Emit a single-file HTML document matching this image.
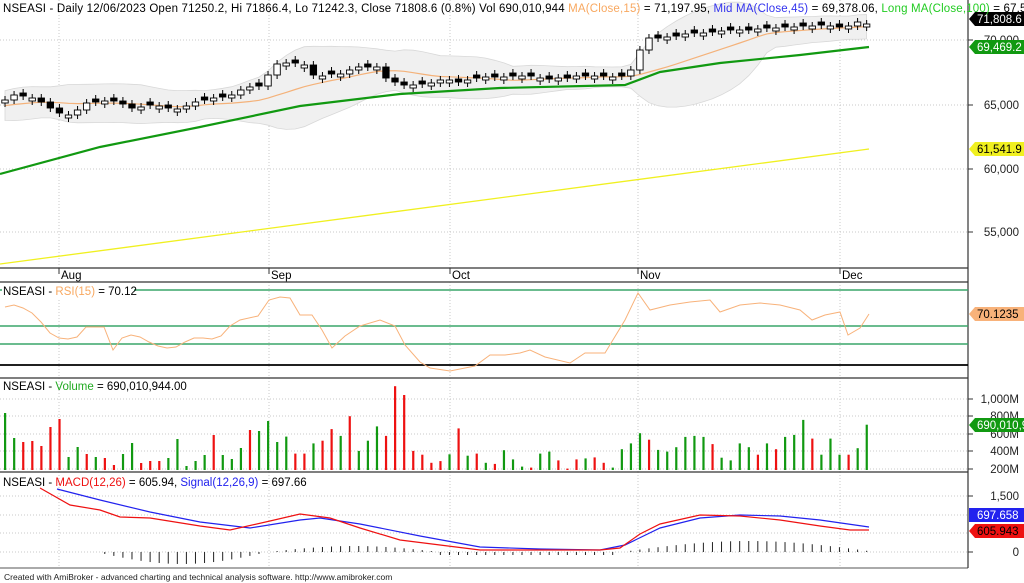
<!DOCTYPE html>
<html><head><meta charset="utf-8"><style>
body{margin:0;background:#fff;}
svg{display:block;font-family:"Liberation Sans",sans-serif;}
</style></head><body>
<svg id="s" width="1024" height="583" viewBox="0 0 1024 583" xmlns="http://www.w3.org/2000/svg"></svg>
<script>
const S=document.getElementById('s');let h='';
const X=i=>5+i*9.07;
const cy=[100,95,96,98,102,108,113,115,110,103,102,101,101,104,108,107,105,106,108,109,106,102,100,98,97,95,90,87,86,75,64,63,63,65,75,76,74,74,70,67,67,67,78,82,85,85,84,83,80,80,82,80,78,77,77,77,76,76,76,78,79,78,78,76,76,76,76,77,76,70,50,38,38,37,36,34,33,33,32,31,30,30,30,29,28,28,27,27,26,26,25,26,27,26,22,24,20];
const n=96;
const vg=[59,269,450,638,840];
function dot(x1,y1,x2,y2){h+=`<line x1="${x1}" y1="${y1}" x2="${x2}" y2="${y2}" stroke="#c8c8c8" stroke-dasharray="1,2"/>`;}
vg.forEach(x=>{dot(x,0,x,268);dot(x,282,x,378);dot(x,378,x,472);dot(x,472,x,568);});
[40,105,169,232].forEach(y=>dot(0,y,968,y));
[399,416,434,451,469].forEach(y=>dot(0,y,968,y));
[496,515,533,552].forEach(y=>dot(0,y,968,y));
let ma=[],up=[],lo=[];
for(let i=0;i<n;i++){let a=[];for(let k=i-14;k<=i;k++)a.push(cy[Math.max(0,k)]+(k<0?(k*-0.8):0));let m=a.reduce((p,c)=>p+c)/15;let sd=Math.sqrt(a.reduce((p,c)=>p+(c-m)*(c-m),0)/15);ma.push(m);up.push(m-2*sd-8);lo.push(m+2*sd+8);}
let bp='M'+up.map((y,i)=>X(i).toFixed(1)+','+y.toFixed(1)).join(' L')+' L'+lo.map((y,i)=>X(n-1-i).toFixed(1)+','+lo[n-1-i].toFixed(1)).join(' L')+'Z';
h+=`<path d="${bp}" fill="#f0f0f0" stroke="#d8d8d8" stroke-width="0.8"/>`;
h+=`<polyline points="${ma.map((y,i)=>X(i).toFixed(1)+','+y.toFixed(1)).join(' ')}" fill="none" stroke="#f4b27a" stroke-width="1.2"/>`;
h+=`<line x1="0" y1="264" x2="869" y2="149" stroke="#f0f020" stroke-width="1.3"/>`;
h+=`<polyline points="0,174 100,147 200,127 300,106 400,94 500,88 625,85 660,72 720,63 800,55 869,47" fill="none" stroke="#119911" stroke-width="2.2"/>`;
for(let i=0;i<n;i++){let c=cy[i],o=i?cy[i-1]:c+3;if(Math.abs(c-o)<3)o=c+((i%2)?3:-3);let x=X(i);let t=Math.min(c,o),b=Math.max(c,o);
h+=`<line x1="${x}" y1="${t-4}" x2="${x}" y2="${b+4}" stroke="#000"/>`;
h+=`<rect x="${x-3.2}" y="${t}" width="6.4" height="${b-t}" fill="${c<o?'#fff':'#000'}" stroke="#000" stroke-width="0.9"/>`;}
h+=`<line x1="0" y1="268" x2="968" y2="268" stroke="#555" stroke-width="1.5"/><line x1="0" y1="282" x2="968" y2="282" stroke="#555" stroke-width="1.5"/><line x1="0" y1="378" x2="968" y2="378" stroke="#555" stroke-width="1.5"/><line x1="0" y1="472" x2="968" y2="472" stroke="#555" stroke-width="1.5"/><line x1="0" y1="568" x2="968" y2="568" stroke="#555" stroke-width="1"/>`;
h+=`<line x1="968" y1="0" x2="968" y2="568" stroke="#333" stroke-width="1.2"/>`;
[['Aug',59],['Sep',269],['Oct',450],['Nov',638],['Dec',840]].forEach(([t,x])=>{h+=`<line x1="${x}" y1="268" x2="${x}" y2="274" stroke="#333"/><text x="${x+2}" y="279" font-size="11.5">${t}</text>`;});
[[290,'#3aa66a'],[326,'#3aa66a'],[344,'#3aa66a']].forEach(([y,c])=>h+=`<line x1="0" y1="${y}" x2="968" y2="${y}" stroke="${c}" stroke-width="1.5"/>`);
h+=`<line x1="0" y1="365" x2="968" y2="365" stroke="#000" stroke-width="1.8"/>`;
h+=`<polyline points="5,307 14,305 23,308 32,313 41,322 50,333 59,338 68,339 77,337 86,327 95,327 104,327 113,350 122,338 131,335 140,337 149,342 158,346 167,348 176,347 185,342 194,338 203,338 212,339 221,336 230,326 240,320 258,316 269,300 280,297 290,298 300,315 312,315 322,330 332,348 345,336 360,326 380,320 395,326 405,345 420,362 430,368 450,371 465,368 475,366 490,355 505,355 520,353 530,350 545,357 570,363 585,353 605,353 625,320 638,293 650,310 670,305 690,302 710,300 720,312 740,305 760,303 780,305 800,310 812,320 825,315 840,312 848,335 860,328 869,314" fill="none" stroke="#f8b27a" stroke-width="1"/>`;
const v3=[[413,'g'],[438,'g'],[442,'r'],[441,'r'],[446,'r'],[427,'r'],[419,'r'],[457,'g'],[447,'g'],[454,'r'],[457,'g'],[458,'r'],[465,'r'],[454,'g'],[443,'g'],[463,'r'],[461,'r'],[461,'r'],[458,'g'],[439,'g'],[466,'g'],[461,'g'],[455,'g'],[435,'r'],[455,'g'],[459,'g'],[448,'g'],[430,'r'],[431,'g'],[421,'g'],[442,'g']];
const z4=[[200,'g'],[250,'r'],[250,'r'],[220,'g'],[212,'r'],[178,'r'],[198,'g'],[140,'r'],[242,'g'],[212,'g'],[170,'g'],[198,'r'],[52,'r'],[78,'r'],[242,'r'],[253,'r'],[277,'r'],[272,'r'],[252,'g'],[176,'r'],[256,'g'],[250,'r'],[277,'g'],[280,'r'],[240,'g'],[267,'g'],[288,'g'],[291,'r'],[250,'g'],[244,'g'],[270,'r'],[294,'r'],[267,'r'],[264,'g'],[261,'r'],[277,'r'],[291,'g'],[237,'g'],[220,'g'],[190,'g'],[209,'r'],[239,'g'],[244,'g'],[231,'g'],[201,'g'],[198,'g'],[201,'g'],[222,'r'],[262,'g'],[270,'g'],[220,'g'],[231,'g'],[253,'r'],[220,'g'],[237,'r'],[201,'g'],[195,'g'],[151,'g'],[206,'r'],[253,'g'],[206,'g'],[253,'g'],[253,'r'],[234,'g'],[165,'g']];
const vol=v3.concat(z4.map(([z,c])=>[378+(z-28)*0.3407,c]));
vol.forEach(([y,c],i)=>{h+=`<rect x="${X(i)-1}" y="${y.toFixed(1)}" width="2.2" height="${(470-y).toFixed(1)}" fill="${c=='g'?'#119911':'#ee1111'}"/>`;});
for(let i=10;i<n;i++){let x=X(i);let v;
 if(i<29)v=-12*Math.sin(Math.PI*(i-10)/19);else if(i<48)v=6*Math.sin(Math.PI*(i-29)/19);else if(i<68)v=-3;else v=11*Math.sin(Math.PI*(i-68)/28);
 h+=`<line x1="${x}" y1="552" x2="${x}" y2="${552-v}" stroke="#222"/>`;}
h+=`<polyline points="57,489 100,500 150,512 200,522 250,528 300,520 320,518 360,524 420,536 480,547 540,549 600,550 625,545 660,528 700,518 740,515 780,516 820,520 869,527" fill="none" stroke="#2222ee" stroke-width="1.2"/>`;
h+=`<polyline points="40,488 70,505 100,510 120,517 150,518 200,526 230,530 270,521 300,514 330,518 360,528 400,540 440,545 480,550 540,550 600,550 620,548 640,534 660,524 700,515 740,516 780,520 820,526 850,530 869,530" fill="none" stroke="#ee1111" stroke-width="1.2"/>`;
function yl(t,y){h+=`<line x1="968" y1="${y}" x2="973" y2="${y}" stroke="#333"/><text x="1019" y="${y+4}" font-size="11.5" text-anchor="end" fill="#222">${t}</text>`;}
[['70,000',40],['65,000',105],['60,000',169],['55,000',232]].forEach(a=>yl(...a));
[['1,000M',399],['800M',416],['600M',434],['400M',451],['200M',469]].forEach(a=>yl(...a));
[['1,500',496],['0',552]].forEach(a=>yl(...a));
function tag(t,y,bg,fg){h+=`<path d="M969,${y} L975,${y-7} L1024,${y-7} L1024,${y+7} L975,${y+7}Z" fill="${bg}"/><text x="977" y="${y+4}" font-size="11.5" fill="${fg}">${t}</text>`;}
tag('71,808.6',19,'#000','#fff');tag('69,469.2',47,'#119911','#fff');tag('61,541.9',149,'#f0f020','#000');
tag('70.1235',314,'#f8b27a','#000');tag('690,010,9',425,'#119911','#fff');
h+=`<rect x="969" y="508" width="55" height="14" fill="#2222ee"/><text x="977" y="519" font-size="11.5" fill="#fff">697.658</text>`;
tag('605.943',531,'#ee1111','#000');
h+=`<text x="3" y="12" font-size="11.5" fill="#000" textLength="1030" lengthAdjust="spacing">NSEASI - Daily 12/06/2023 Open 71250.2, Hi 71866.4, Lo 71242.3, Close 71808.6 (0.8%) Vol 690,010,944 <tspan fill="#f8a860">MA(Close,15)</tspan> = 71,197.95, <tspan fill="#3333ee">Mid MA(Close,45)</tspan> = 69,378.06, <tspan fill="#22cc22">Long MA(Close,100)</tspan> = 67,56</text>`;
h+=`<rect x="2" y="284" width="132" height="14" fill="#fff"/><text x="3" y="295" font-size="11.5">NSEASI - <tspan fill="#f8a860">RSI(15)</tspan> = 70.12</text>`;
h+=`<text x="3" y="390" font-size="11.5">NSEASI - <tspan fill="#22aa22">Volume</tspan> = 690,010,944.00</text>`;
h+=`<text x="3" y="486" font-size="11.5">NSEASI - <tspan fill="#ee1111">MACD(12,26)</tspan> = 605.94, <tspan fill="#2222ee">Signal(12,26,9)</tspan> = 697.66</text>`;
h+=`<text x="4" y="580" font-size="8.5" fill="#222">Created with AmiBroker - advanced charting and technical analysis software. http://www.amibroker.com</text>`;
S.innerHTML=h;
</script>
</body></html>
